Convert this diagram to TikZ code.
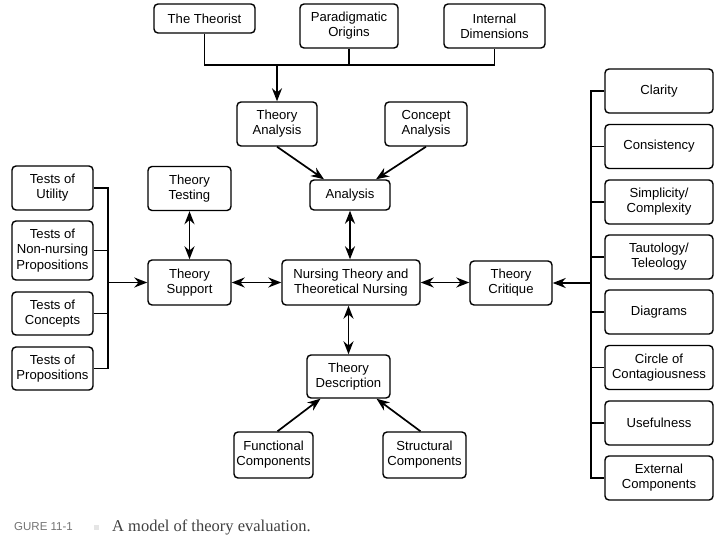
\documentclass[tikz,border=0pt]{standalone}
\usepackage{fontspec}
\setmainfont{Liberation Sans}
\newfontfamily\capfont{Liberation Serif}
\usetikzlibrary{arrows.meta,calc}
\begin{document}
\begin{tikzpicture}[x=1pt,y=-1pt,
  box/.style={draw, rounded corners=4pt, line width=1.4pt, align=center, inner sep=0pt,
    font=\fontsize{13.1}{15.2}\selectfont},
  ln/.style={line width=1.7pt},
  arr/.style={line width=1.7pt, -{Stealth[length=13pt,width=10pt]}},
  darr/.style={line width=1.7pt, {Stealth[length=13pt,width=10pt]}-{Stealth[length=13pt,width=10pt]}}]
\useasboundingbox (0,0) rectangle (728,546);
% top row
\node[box, minimum width=101pt, minimum height=29pt] (theorist) at (204.5,18.5) {The Theorist};
\node[box, minimum width=98pt, minimum height=44pt] (paradigm) at (349,26) {Paradigmatic\\Origins};
\node[box, minimum width=101pt, minimum height=44pt] (internal) at (494.5,26) {Internal\\Dimensions};
\node[box, minimum width=80pt, minimum height=44pt] (tanalysis) at (277,124) {Theory\\Analysis};
\node[box, minimum width=82pt, minimum height=44pt] (canalysis) at (426,124) {Concept\\Analysis};
\node[box, minimum width=80pt, minimum height=30pt] (analysis) at (350,195) {Analysis};
\node[box, minimum width=138pt, minimum height=45pt] (nursing) at (351,282.5) {Nursing Theory and\\Theoretical Nursing};
\node[box, minimum width=83pt, minimum height=43pt] (tdesc) at (348.5,376.5) {Theory\\Description};
\node[box, minimum width=79pt, minimum height=46pt] (func) at (273.5,455) {Functional\\Components};
\node[box, minimum width=83pt, minimum height=46pt] (struct) at (424.5,455) {Structural\\Components};
\node[box, minimum width=83pt, minimum height=44pt] (ttesting) at (189.5,188.5) {Theory\\Testing};
\node[box, minimum width=83pt, minimum height=45pt] (tsupport) at (189.5,282.5) {Theory\\Support};
\node[box, minimum width=82pt, minimum height=44pt] (tcritique) at (511,283) {Theory\\Critique};
% left column
\node[box, minimum width=81pt, minimum height=44pt] (utility) at (52.5,188) {Tests of\\Utility};
\node[box, minimum width=81pt, minimum height=59pt] (nonnursing) at (52.5,250.5) {Tests of\\Non-nursing\\Propositions};
\node[box, minimum width=81pt, minimum height=43pt] (concepts) at (52.5,313.5) {Tests of\\Concepts};
\node[box, minimum width=81pt, minimum height=43pt] (props) at (52.5,368.5) {Tests of\\Propositions};
% right column
\node[box, minimum width=108pt, minimum height=44pt] (clarity) at (659,91) {Clarity};
\node[box, minimum width=108pt, minimum height=44pt] (consistency) at (659,146.5) {Consistency};
\node[box, minimum width=108pt, minimum height=44pt] (simplicity) at (659,202) {Simplicity/\\Complexity};
\node[box, minimum width=108pt, minimum height=44pt] (tautology) at (659,257) {Tautology/\\Teleology};
\node[box, minimum width=108pt, minimum height=44pt] (diagrams) at (659,312) {Diagrams};
\node[box, minimum width=108pt, minimum height=44pt] (circle) at (659,367.5) {Circle of\\Contagiousness};
\node[box, minimum width=108pt, minimum height=44pt] (useful) at (659,423) {Usefulness};
\node[box, minimum width=108pt, minimum height=44pt] (external) at (659,478) {External\\Components};
% top bus
\coordinate (tbl) at (204.5,65);
\coordinate (tbr) at (494.5,65);
\coordinate (tbm) at (277,65);
\draw[ln] (theorist.south) -- (tbl) -- (tbr) -- (internal.south);
\draw[ln] (paradigm.south) -- (paradigm.south |- tbl);
\draw[arr] (tbm) -- (tanalysis.north);
% analysis
\draw[arr] (tanalysis.south) -- ($(analysis.north)+(-26,0)$);
\draw[arr] (canalysis.south) -- ($(analysis.north)+(26,0)$);
\draw[darr] (analysis.south) -- (analysis.south |- nursing.north);
\draw[darr] (nursing.south -| tdesc) -- (tdesc.north);
\draw[arr] ($(func.north)+(4,0)$) -- ($(tdesc.south)+(-28,0)$);
\draw[arr] ($(struct.north)+(-4,0)$) -- ($(tdesc.south)+(28,0)$);
\draw[darr] (ttesting.south) -- (tsupport.north);
\draw[darr] (tsupport.east) -- (nursing.west);
\draw[darr] (nursing.east) -- (nursing.east -| tcritique.west);
% left bus
\coordinate (lbot) at (108,368.5);
\draw[ln] (utility.east) -| (lbot) -- (props.east);
\draw[ln] (nonnursing.east) -- (nonnursing.east -| lbot);
\draw[ln] (concepts.east) -- (concepts.east -| lbot);
\draw[arr] (lbot |- tsupport) -- (tsupport.west);
% right bus
\coordinate (rbot) at (591,478);
\draw[ln] (clarity.west) -| (rbot) -- (external.west);
\foreach \n in {consistency,simplicity,tautology,diagrams,circle,useful}
  \draw[ln] (\n.west) -- (\n.west -| rbot);
\draw[arr] (rbot |- tcritique) -- (tcritique.east);
% caption
\node[anchor=west, inner sep=0pt, text=black!55, font=\fontsize{11.5}{13}\selectfont] (fig) at (14,527) {GURE 11-1};
\node[fill=black!10, minimum size=5pt, inner sep=0pt] (sq) at (96,527) {};
\node[anchor=west, inner sep=0pt, text=black!75, font=\capfont\fontsize{16.5}{18}\selectfont] (cap) at (112,527) {A model of theory evaluation.};
\end{tikzpicture}
\end{document}
